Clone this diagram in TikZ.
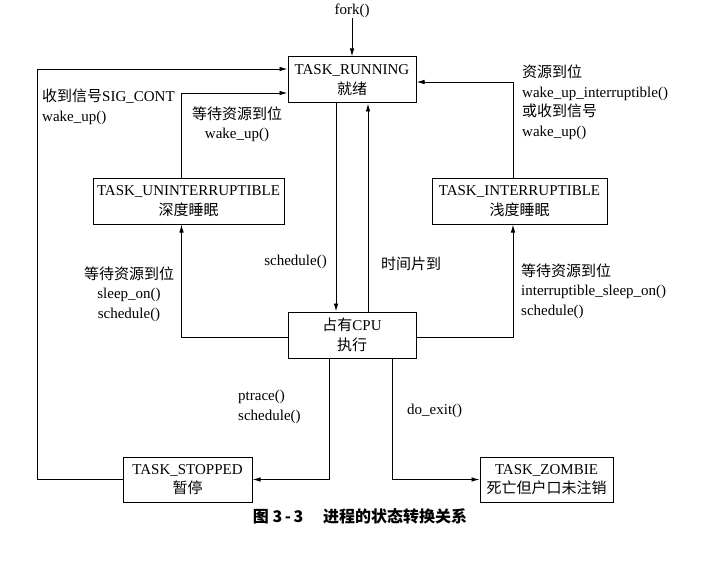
\documentclass[tikz,border=0pt]{standalone}
\usepackage{fontspec}
\setmainfont{Liberation Serif}
\newfontfamily\cjk{Noto Sans CJK SC}
\usetikzlibrary{arrows.meta}
\newcommand\zh[1]{{\cjk #1}}
\begin{document}
\begin{tikzpicture}[x=1pt,y=-1pt,
  every node/.style={font=\fontsize{15}{19.5}\selectfont, inner sep=0pt},
  box/.style={draw, line width=1pt, minimum height=46pt, align=center},
  line/.style={line width=0.9pt},
  arr/.style={line, -{Latex[length=8pt,width=4.5pt]}},
  lbl/.style={align=left, anchor=west},
  clbl/.style={align=center},
]
\fill[white] (0,0) rectangle (722,567);
\useasboundingbox (0,0) rectangle (722,567);

% boxes
\node[box, minimum width=128pt] (run) at (352,80) {TASK\_RUNNING\\\zh{就绪}};
\node[box, minimum width=191pt] (unint) at (188.5,201) {TASK\_UNINTERRUPTIBLE\\\zh{深度睡眠}};
\node[box, minimum width=175pt] (int) at (519.5,201) {TASK\_INTERRUPTIBLE\\\zh{浅度睡眠}};
\node[box, minimum width=128pt] (cpu) at (352,335) {\zh{占有}CPU\\\zh{执行}};
\node[box, minimum width=129pt, minimum height=45pt] (stop) at (187.5,479.5) {TASK\_STOPPED\\\zh{暂停}};
\node[box, minimum width=133pt, minimum height=45pt] (zomb) at (546.5,479.5) {TASK\_ZOMBIE\\\zh{死亡但户口未注销}};

% fork
\node (fork) at (352,11) {fork()};
\draw[arr] (fork.south) -- (run.north);

% anchor points
\coordinate (rw1) at ([yshift=11pt]run.west);
\coordinate (rw2) at ([yshift=-13pt]run.west);
\coordinate (re1) at ([yshift=-2pt]run.east);
\coordinate (outer) at (37,69);

% outer loop stop -> running
\draw[arr] (stop.west) -| (outer) -- (rw1);
% uninterruptible -> running
\draw[arr] ([xshift=-7pt]unint.north) |- (rw2);
% interruptible -> running
\draw[arr] ([xshift=-6.5pt]int.north) |- (re1);
% running <-> cpu
\draw[arr] ([xshift=-16pt]run.south) -- ([xshift=-16pt]cpu.north);
\draw[arr] ([xshift=16pt]cpu.north) -- ([xshift=16pt]run.south);
% cpu -> sleeps
\draw[arr] ([yshift=-2pt]cpu.west) -| ([xshift=-7pt]unint.south);
\draw[arr] ([yshift=-2pt]cpu.east) -| ([xshift=-6.5pt]int.south);
% cpu -> stopped / zombie
\draw[arr] ([xshift=-23pt]cpu.south) |- (stop.east);
\draw[arr] ([xshift=40pt]cpu.south) |- (zomb.west);

% labels
\node[lbl] (l1) at (42,107) {\zh{收到信号}SIG\_CONT\\wake\_up()};
\node[clbl] (l2) at (237,124) {\zh{等待资源到位}\\wake\_up()};
\node[lbl] (l3) at (522,102) {\zh{资源到位}\\wake\_up\_interruptible()\\\zh{或收到信号}\\wake\_up()};
\node[anchor=east] (l4) at (327,262) {schedule()};
\node[anchor=west] (l5) at (381,264) {\zh{时间片到}};
\node[clbl] (l6) at (129,294) {\zh{等待资源到位}\\sleep\_on()\\schedule()};
\node[lbl] (l7) at (521,291) {\zh{等待资源到位}\\interruptible\_sleep\_on()\\schedule()};
\node[lbl] (l8) at (238,407) {ptrace()\\schedule()};
\node[lbl] (l9) at (407,411) {do\_exit()};

% caption
\node (cap) at (360,516) {\fontsize{16}{19}\selectfont\cjk\bfseries 图 3\,-\,3\quad\ 进程的状态转换关系};
\end{tikzpicture}
\end{document}
